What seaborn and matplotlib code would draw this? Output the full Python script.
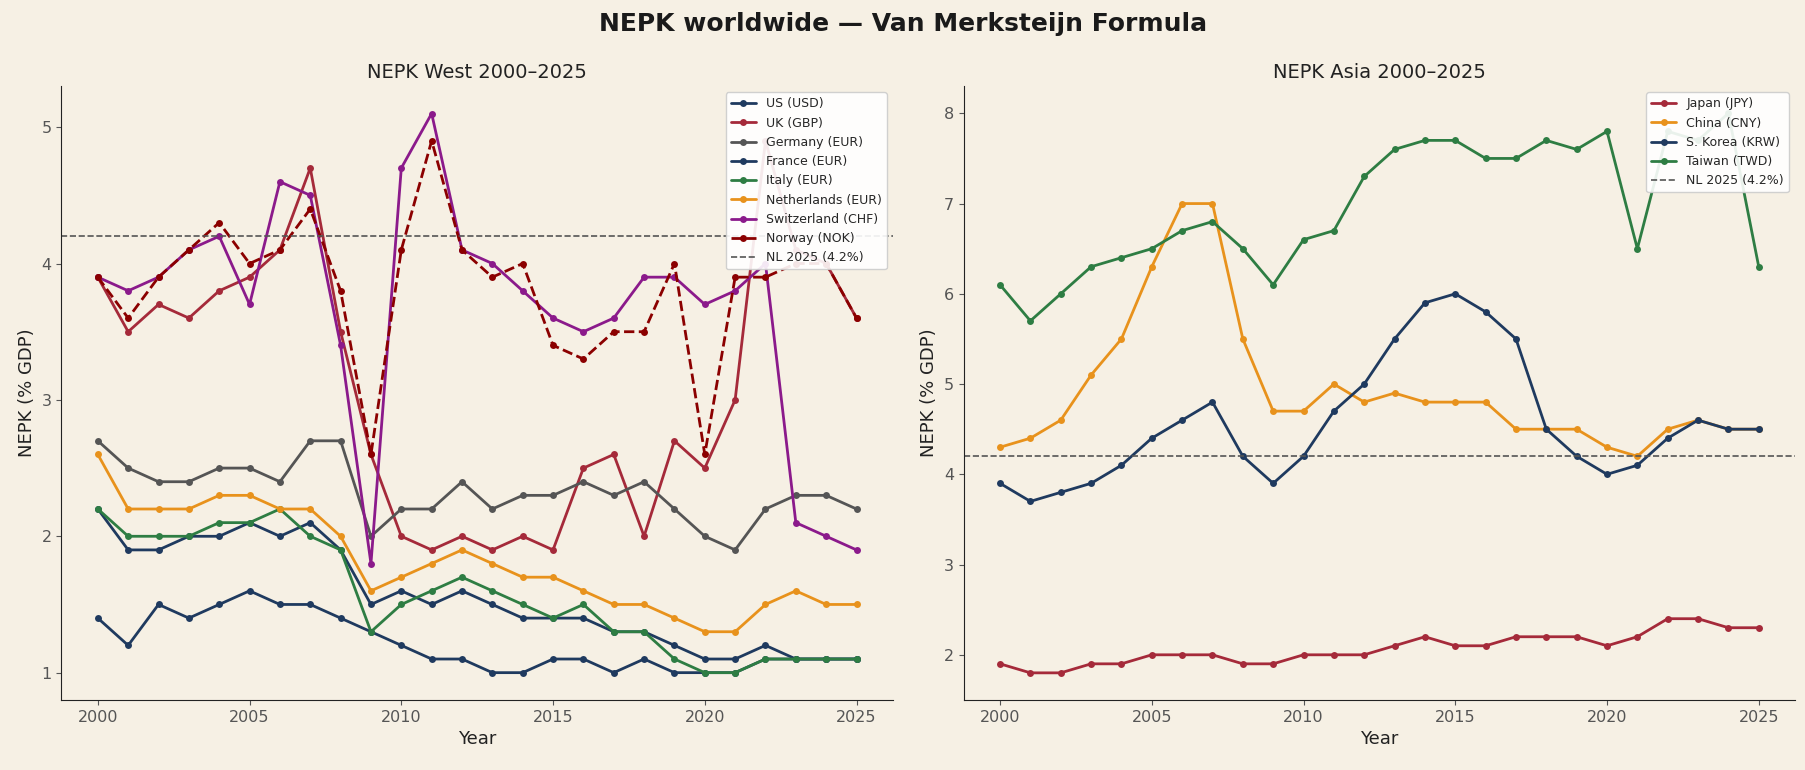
import pandas as pd
import matplotlib
matplotlib.use("Agg")
import matplotlib.pyplot as plt
from matplotlib.ticker import MultipleLocator
import seaborn as sns

sns.set_style("ticks")
plt.rcParams['font.family'] = ['DejaVu Sans']

years = list(range(2000, 2026))

# -----------------------------
# West data (% GDP)
# -----------------------------
us = [1.4, 1.2, 1.5, 1.4, 1.5, 1.6, 1.5, 1.5, 1.4, 1.3, 1.2, 1.1, 1.1,
      1.0, 1.0, 1.1, 1.1, 1.0, 1.1, 1.0, 1.0, 1.0, 1.1, 1.1, 1.1, 1.1]
uk = [3.9, 3.5, 3.7, 3.6, 3.8, 3.9, 4.1, 4.7, 3.5, 2.6, 2.0, 1.9, 2.0,
      1.9, 2.0, 1.9, 2.5, 2.6, 2.0, 2.7, 2.5, 3.0, 4.9, 4.1, 4.0, 3.6]
germany = [2.7, 2.5, 2.4, 2.4, 2.5, 2.5, 2.4, 2.7, 2.7, 2.0, 2.2, 2.2, 2.4,
           2.2, 2.3, 2.3, 2.4, 2.3, 2.4, 2.2, 2.0, 1.9, 2.2, 2.3, 2.3, 2.2]
france = [2.2, 1.9, 1.9, 2.0, 2.0, 2.1, 2.0, 2.1, 1.9, 1.5, 1.6, 1.5, 1.6,
          1.5, 1.4, 1.4, 1.4, 1.3, 1.3, 1.2, 1.1, 1.1, 1.2, 1.1, 1.1, 1.1]
italy = [2.2, 2.0, 2.0, 2.0, 2.1, 2.1, 2.2, 2.0, 1.9, 1.3, 1.5, 1.6, 1.7,
         1.6, 1.5, 1.4, 1.5, 1.3, 1.3, 1.1, 1.0, 1.0, 1.1, 1.1, 1.1, 1.1]
netherlands = [2.6, 2.2, 2.2, 2.2, 2.3, 2.3, 2.2, 2.2, 2.0, 1.6, 1.7, 1.8, 1.9,
               1.8, 1.7, 1.7, 1.6, 1.5, 1.5, 1.4, 1.3, 1.3, 1.5, 1.6, 1.5, 1.5]
switzerland = [3.9, 3.8, 3.9, 4.1, 4.2, 3.7, 4.6, 4.5, 3.4, 1.8, 4.7, 5.1, 4.1,
               4.0, 3.8, 3.6, 3.5, 3.6, 3.9, 3.9, 3.7, 3.8, 4.0, 2.1, 2.0, 1.9]
norway = [3.9, 3.6, 3.9, 4.1, 4.3, 4.0, 4.1, 4.4, 3.8, 2.6, 4.1, 4.9, 4.1,
          3.9, 4.0, 3.4, 3.3, 3.5, 3.5, 4.0, 2.6, 3.9, 3.9, 4.0, 4.0, 3.6]

# -----------------------------
# Asia data (% GDP)
# -----------------------------
japan = [1.9, 1.8, 1.8, 1.9, 1.9, 2.0, 2.0, 2.0, 1.9, 1.9, 2.0, 2.0, 2.0,
         2.1, 2.2, 2.1, 2.1, 2.2, 2.2, 2.2, 2.1, 2.2, 2.4, 2.4, 2.3, 2.3]
china = [4.3, 4.4, 4.6, 5.1, 5.5, 6.3, 7.0, 7.0, 5.5, 4.7, 4.7, 5.0, 4.8,
         4.9, 4.8, 4.8, 4.8, 4.5, 4.5, 4.5, 4.3, 4.2, 4.5, 4.6, 4.5, 4.5]
korea = [3.9, 3.7, 3.8, 3.9, 4.1, 4.4, 4.6, 4.8, 4.2, 3.9, 4.2, 4.7, 5.0,
         5.5, 5.9, 6.0, 5.8, 5.5, 4.5, 4.2, 4.0, 4.1, 4.4, 4.6, 4.5, 4.5]
taiwan = [6.1, 5.7, 6.0, 6.3, 6.4, 6.5, 6.7, 6.8, 6.5, 6.1, 6.6, 6.7, 7.3,
          7.6, 7.7, 7.7, 7.5, 7.5, 7.7, 7.6, 7.8, 6.5, 7.8, 7.7, 8.0, 6.3]

nl_2025 = 4.2

west = [
    ("US (USD)", us, "#1f3a5f", "-"),
    ("UK (GBP)", uk, "#a52a3a", "-"),
    ("Germany (EUR)", germany, "#555555", "-"),
    ("France (EUR)", france, "#1f3a5f", "-"),
    ("Italy (EUR)", italy, "#2e7d43", "-"),
    ("Netherlands (EUR)", netherlands, "#e8921c", "-"),
    ("Switzerland (CHF)", switzerland, "#8b1a8b", "-"),
    ("Norway (NOK)", norway, "#8b0000", "--"),
]
asia = [
    ("Japan (JPY)", japan, "#a52a3a", "-"),
    ("China (CNY)", china, "#e8921c", "-"),
    ("S. Korea (KRW)", korea, "#1f3a5f", "-"),
    ("Taiwan (TWD)", taiwan, "#2e7d43", "-"),
]

bg = "#f6f0e4"
fig, axes = plt.subplots(1, 2, figsize=(18.06, 7.7), dpi=100)
fig.patch.set_facecolor(bg)
plt.subplots_adjust(left=0.034, right=0.994, top=0.888, bottom=0.091, wspace=0.085)


def draw(ax, series, title, ylim):
    ax.set_facecolor(bg)
    for name, vals, color, ls in series:
        df = pd.DataFrame({"Year": years, "NEPK": vals})
        sns.lineplot(data=df, x="Year", y="NEPK", ax=ax, color=color,
                     linestyle=ls, marker="o", markersize=5, markeredgewidth=0,
                     linewidth=2, label=name)
    ax.axhline(nl_2025, color="#555555", linestyle="--", linewidth=1.2,
               label="NL 2025 (4.2%)")
    ax.set_title(title, fontsize=14, color="#222222")
    ax.set_xlabel("Year", fontsize=13, color="#222222")
    ax.set_ylabel("NEPK (% GDP)", fontsize=13, color="#222222")
    ax.set_ylim(*ylim)
    ax.set_xlim(1998.8, 2026.2)
    ax.yaxis.set_major_locator(MultipleLocator(1))
    ax.tick_params(labelsize=11.5, colors="#555555")
    for s in ["left", "bottom"]:
        ax.spines[s].set_color("#222222")
    ax.legend(loc="upper right", fontsize=9, framealpha=0.9,
              facecolor="white", edgecolor="#cccccc")
    sns.despine(ax=ax)


draw(axes[0], west, "NEPK West 2000–2025", (0.8, 5.3))
draw(axes[1], asia, "NEPK Asia 2000–2025", (1.5, 8.3))

fig.suptitle("NEPK worldwide — Van Merksteijn Formula", fontsize=18,
             fontweight="bold", color="#1a1a1a", y=0.985)

plt.savefig("out.png", facecolor=bg)
